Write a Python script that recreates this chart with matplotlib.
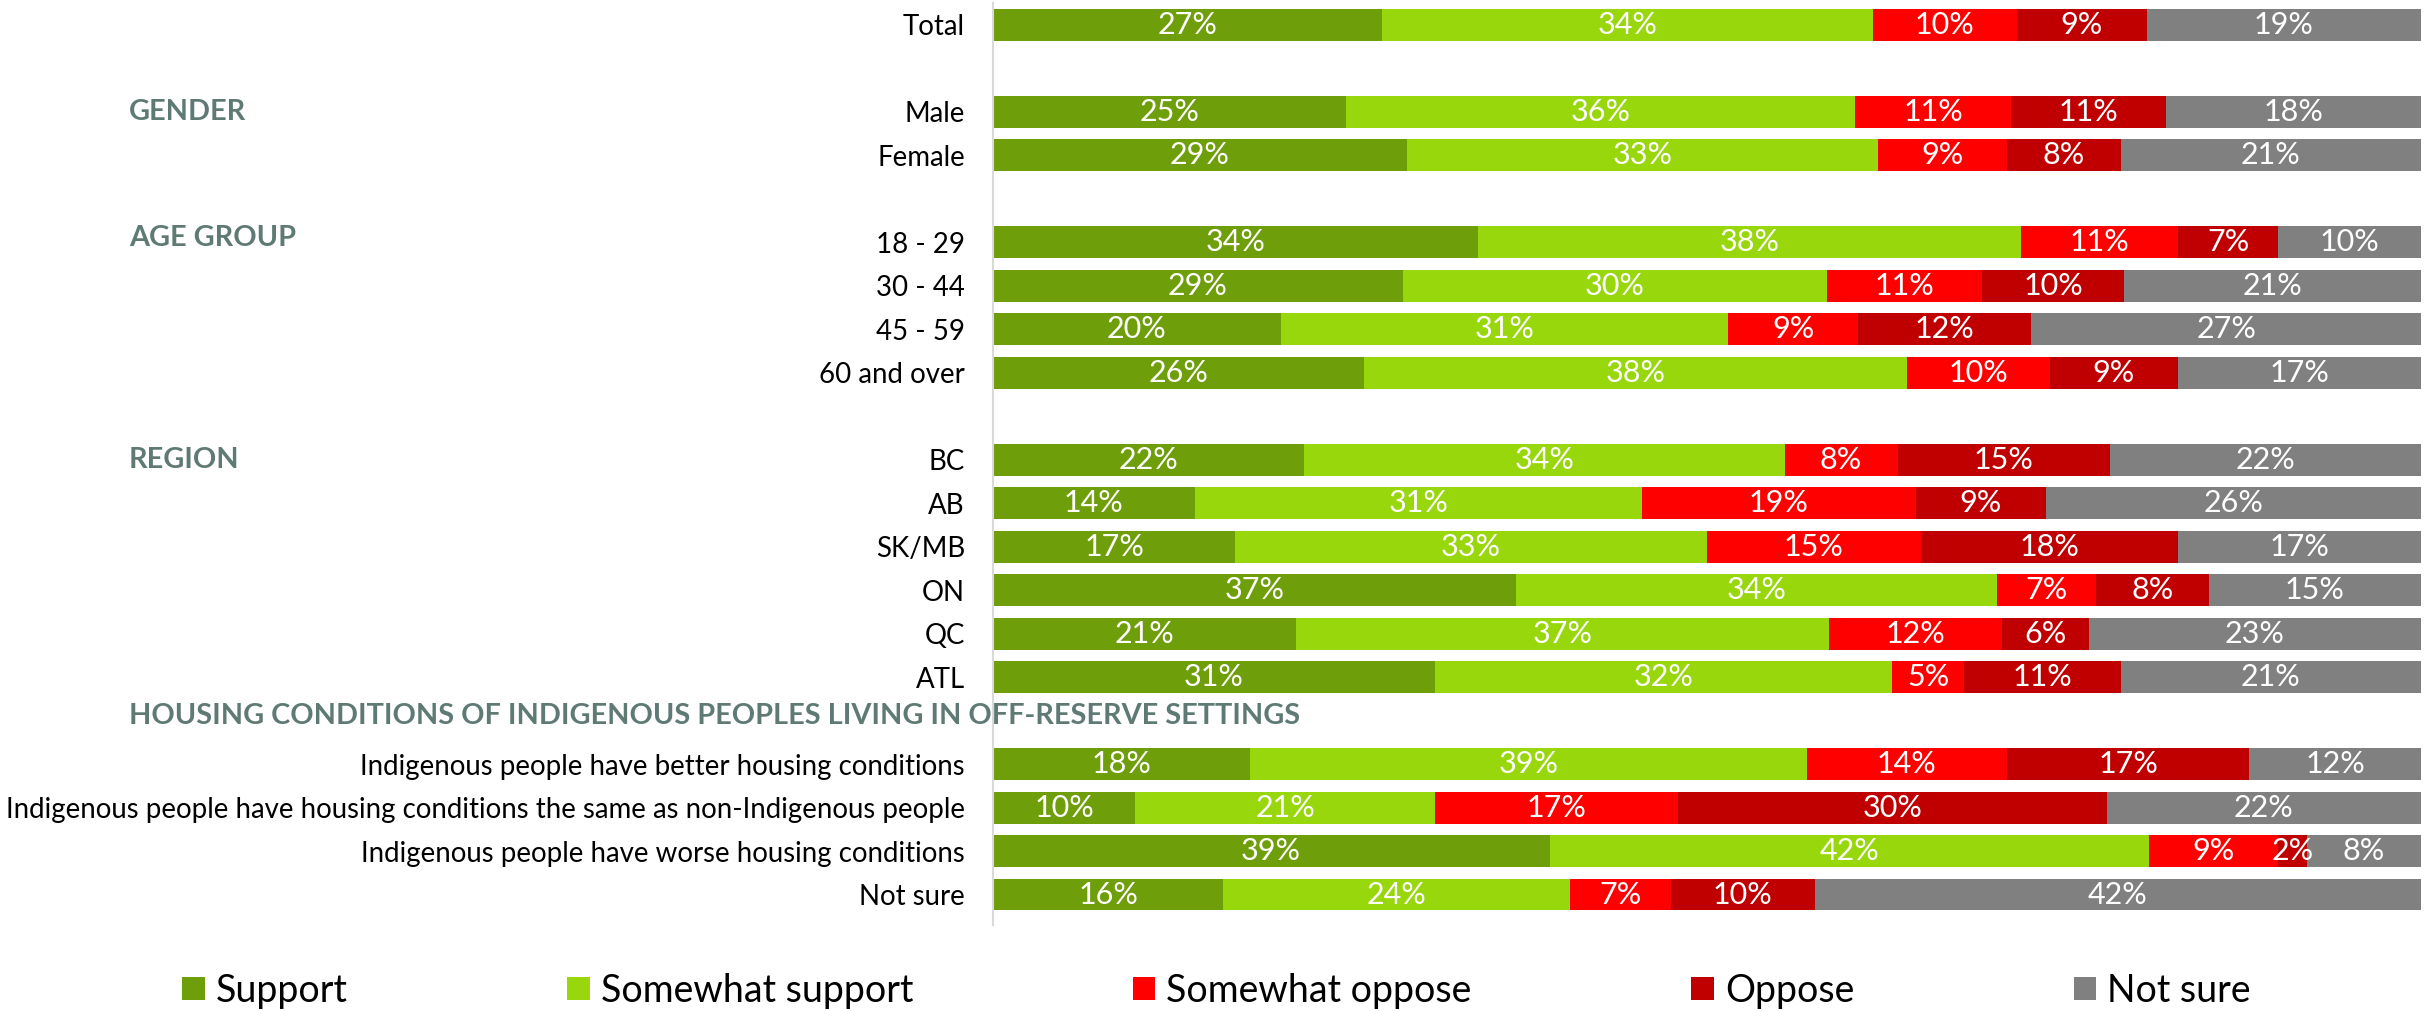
import matplotlib
matplotlib.use("Agg")
import matplotlib.pyplot as plt
import matplotlib.transforms as mtransforms
import numpy as np
from matplotlib.patches import Patch

plt.rcParams['font.family'] = ['Lato', 'DejaVu Sans']

series = ["Support", "Somewhat support", "Somewhat oppose", "Oppose", "Not sure"]
colors = ["#6F9E0B", "#97D70B", "#FF0000", "#C00000", "#808080"]

categories = ["Total", "", "Male", "Female", "", "18 - 29", "30 - 44", "45 - 59", "60 and over", "",
              "BC", "AB", "SK/MB", "ON", "QC", "ATL", "",
              "Indigenous people have better housing conditions",
              "Indigenous people have housing conditions the same as non-Indigenous people",
              "Indigenous people have worse housing conditions",
              "Not sure"]

support          = [27, None, 25, 29, None, 34, 29, 20, 26, None, 22, 14, 17, 37, 21, 31, None, 18, 10, 39, 16]
somewhat_support = [34, None, 36, 33, None, 38, 30, 31, 38, None, 34, 31, 33, 34, 37, 32, None, 39, 21, 42, 24]
somewhat_oppose  = [10, None, 11,  9, None, 11, 11,  9, 10, None,  8, 19, 15,  7, 12,  5, None, 14, 17,  9,  7]
oppose           = [ 9, None, 11,  8, None,  7, 10, 12,  9, None, 15,  9, 18,  8,  6, 11, None, 17, 30,  2, 10]
not_sure         = [19, None, 18, 21, None, 10, 21, 27, 17, None, 22, 26, 17, 15, 23, 21, None, 12, 22,  8, 42]

headers = ["GENDER", "AGE GROUP", "REGION",
           "HOUSING CONDITIONS OF INDIGENOUS PEOPLES LIVING IN OFF-RESERVE SETTINGS"]
header_rows = [2, 5, 10, 16]

data = [support, somewhat_support, somewhat_oppose, oppose, not_sure]

fig = plt.figure(figsize=(24.33, 10.11), dpi=100)
ax = fig.add_axes([0.408, 0.085, 0.587, 0.912])

n = len(categories)
y = np.arange(n)
for i in range(n):
    vals = [d[i] for d in data]
    if vals[0] is None:
        continue
    tot = sum(vals)
    left = 0.0
    for v, c in zip(vals, colors):
        w = v / tot
        ax.barh(i, w, left=left, height=0.73, color=c, linewidth=0)
        ax.text(left + w / 2, i, f"{v}%", ha='center', va='center',
                color='white', fontsize=22)
        left += w

ax.set_xlim(0, 1)
ax.set_ylim(n - 0.5 + 0.2, -0.5)
ax.set_yticks(y)
ax.set_yticklabels(categories, fontsize=19.9)
ax.tick_params(axis='y', length=0, pad=20)
ax.set_xticks([])
for s in ['top', 'right', 'bottom']:
    ax.spines[s].set_visible(False)
ax.spines['left'].set_color('#D9D9D9')
ax.spines['left'].set_linewidth(1.5)

trans = mtransforms.blended_transform_factory(fig.transFigure, ax.transData)
for h, r in zip(headers, header_rows):
    yy = r - 0.1 if r in (5, 16) else r
    fig.text(129 / 2433, yy, h, fontsize=20.8, fontweight='bold', color='#5F7A74',
             ha='left', va='center', transform=trans)

handles = [Patch(facecolor=c, edgecolor='none') for c in colors]
fig.legend(handles, series, loc='center', bbox_to_anchor=(0.5, 0.02), ncol=5,
           frameon=False, fontsize=27, handlelength=0.6, handleheight=0.6,
           handletextpad=0.3, columnspacing=5.85)

fig.savefig("out.png", dpi=100)
